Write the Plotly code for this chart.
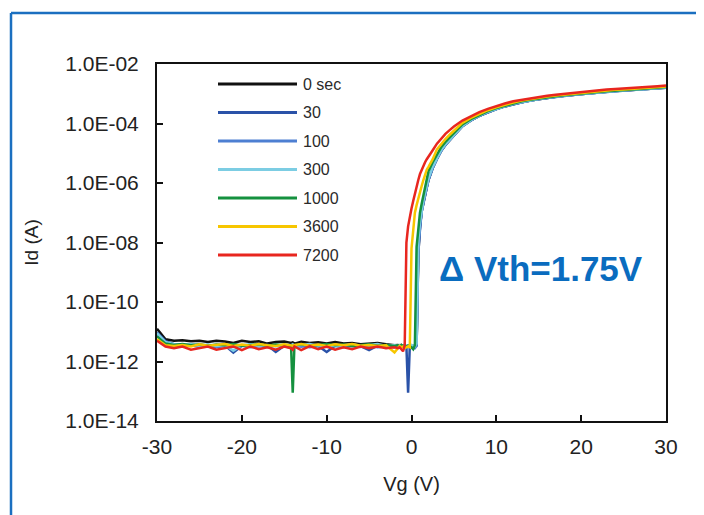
import plotly.graph_objects as go

# Gate voltage grid (V)
vg = [-30, -29, -28, -27, -26, -25, -24, -23, -22, -21, -20, -19, -18, -17, -16, -15,
      -14.2, -14, -13.8, -13, -12, -11, -10, -9, -8, -7, -6, -5, -4, -3, -2,
      -1.6, -1.4, -1.2, -1.0, -0.8, -0.6, -0.4, -0.2, 0.0, 0.2, 0.4, 0.6, 0.8, 1.0,
      1.2, 1.4, 1.6, 1.8, 2.0,
      2.5, 3.0, 3.5, 4.0, 4.5, 5.0,
      6, 7, 8, 9, 10, 11, 12, 13, 14, 15, 16, 17, 18, 19, 20, 21, 22, 23, 24, 25,
      26, 27, 28, 29, 30]

# Drain current (A) for each stress time
id_0sec = [1.26e-11, 5.6e-12, 5.0e-12, 5.2e-12, 4.8e-12, 5.0e-12, 4.5e-12, 5.0e-12, 4.7e-12, 4.2e-12,
           5.0e-12, 4.5e-12, 4.8e-12, 4.0e-12, 4.5e-12, 4.7e-12, 4.2e-12, 4.4e-12, 4.0e-12, 4.6e-12,
           4.2e-12, 4.4e-12, 4.0e-12, 4.5e-12, 4.0e-12, 4.2e-12, 3.8e-12, 4.0e-12, 4.2e-12, 3.8e-12, 3.5e-12,
           3.6e-12, 3.4e-12, 3.6e-12, 3.3e-12, 3.5e-12, 3.2e-12, 3.4e-12, 3.1e-12, 3.3e-12, 3.0e-12,
           3.2e-12, 3.5e-12, 4.0e-9, 3.5e-8, 1.1e-7, 2.2e-7, 4.0e-7, 7.1e-7, 1.26e-6,
           3.2e-6, 6.6e-6, 1.2e-5, 1.9e-5, 2.8e-5, 4.0e-5,
           8.1e-5, 1.27e-4, 1.8e-4, 2.4e-4, 3.05e-4, 3.75e-4, 4.5e-4, 5.2e-4, 5.9e-4, 6.6e-4,
           7.2e-4, 7.9e-4, 8.5e-4, 9.1e-4, 9.7e-4, 1.03e-3, 1.09e-3, 1.16e-3, 1.24e-3, 1.29e-3,
           1.34e-3, 1.39e-3, 1.46e-3, 1.54e-3, 1.6e-3]

id_30 = [9.5e-12, 4.8e-12, 3.8e-12, 3.5e-12, 3.7e-12, 3.4e-12, 3.6e-12, 3.3e-12, 3.5e-12, 2.0e-12,
         3.4e-12, 3.6e-12, 3.3e-12, 3.5e-12, 2.1e-12, 3.4e-12, 3.6e-12, 3.3e-12, 3.5e-12, 3.2e-12,
         3.5e-12, 3.3e-12, 2.1e-12, 3.4e-12, 3.2e-12, 3.5e-12, 3.3e-12, 2.4e-12, 3.4e-12, 3.2e-12, 3.4e-12,
         3.2e-12, 3.5e-12, 3.3e-12, 3.1e-12, 3.4e-12, 3.2e-12, 8.9e-14, 3.3e-12, 3.1e-12, 3.4e-12,
         3.2e-12, 3.6e-12, 6.3e-9, 4.0e-8, 1.15e-7, 2.3e-7, 4.2e-7, 7.4e-7, 1.3e-6,
         3.3e-6, 6.8e-6, 1.22e-5, 1.95e-5, 2.85e-5, 4.05e-5,
         8.2e-5, 1.28e-4, 1.82e-4, 2.42e-4, 3.08e-4, 3.78e-4, 4.55e-4, 5.25e-4, 5.95e-4, 6.65e-4,
         7.25e-4, 7.95e-4, 8.55e-4, 9.15e-4, 9.75e-4, 1.035e-3, 1.095e-3, 1.165e-3, 1.245e-3, 1.295e-3,
         1.345e-3, 1.395e-3, 1.465e-3, 1.545e-3, 1.61e-3]

id_100 = [8.0e-12, 4.2e-12, 3.4e-12, 3.2e-12, 3.5e-12, 3.1e-12, 3.4e-12, 3.0e-12, 3.3e-12, 3.1e-12,
          3.4e-12, 3.0e-12, 3.3e-12, 3.1e-12, 3.4e-12, 3.2e-12, 3.0e-12, 3.3e-12, 3.1e-12, 3.4e-12,
          3.0e-12, 3.3e-12, 3.1e-12, 3.4e-12, 3.0e-12, 3.3e-12, 3.1e-12, 3.4e-12, 3.0e-12, 3.2e-12, 3.0e-12,
          3.3e-12, 3.0e-12, 3.2e-12, 3.4e-12, 3.0e-12, 3.3e-12, 3.1e-12, 3.3e-12, 3.0e-12, 3.2e-12,
          2.8e-12, 3.3e-12, 4.0e-9, 3.5e-8, 1.1e-7, 2.2e-7, 4.0e-7, 7.1e-7, 1.26e-6,
          3.2e-6, 6.6e-6, 1.2e-5, 1.9e-5, 2.8e-5, 4.0e-5,
          8.1e-5, 1.27e-4, 1.8e-4, 2.4e-4, 3.05e-4, 3.75e-4, 4.5e-4, 5.2e-4, 5.9e-4, 6.6e-4,
          7.2e-4, 7.9e-4, 8.5e-4, 9.1e-4, 9.7e-4, 1.03e-3, 1.09e-3, 1.16e-3, 1.24e-3, 1.29e-3,
          1.34e-3, 1.39e-3, 1.46e-3, 1.54e-3, 1.6e-3]

id_300 = [9.0e-12, 4.5e-12, 3.8e-12, 3.5e-12, 3.9e-12, 3.4e-12, 3.7e-12, 3.3e-12, 3.6e-12, 2.3e-12,
          3.5e-12, 3.8e-12, 3.4e-12, 3.6e-12, 3.3e-12, 3.7e-12, 3.5e-12, 3.8e-12, 3.4e-12, 3.6e-12,
          3.9e-12, 3.4e-12, 3.7e-12, 3.3e-12, 3.6e-12, 3.8e-12, 3.4e-12, 3.6e-12, 3.9e-12, 3.3e-12, 3.6e-12,
          3.3e-12, 3.6e-12, 3.2e-12, 3.5e-12, 3.7e-12, 3.3e-12, 3.5e-12, 3.2e-12, 3.6e-12, 3.4e-12,
          3.2e-12, 4.0e-12, 1.0e-8, 4.5e-8, 1.26e-7, 2.5e-7, 4.5e-7, 7.9e-7, 1.4e-6,
          3.5e-6, 7.1e-6, 1.26e-5, 2.0e-5, 2.9e-5, 4.1e-5,
          8.3e-5, 1.3e-4, 1.85e-4, 2.45e-4, 3.1e-4, 3.8e-4, 4.6e-4, 5.3e-4, 6.0e-4, 6.7e-4,
          7.3e-4, 8.0e-4, 8.6e-4, 9.2e-4, 9.8e-4, 1.04e-3, 1.1e-3, 1.17e-3, 1.25e-3, 1.3e-3,
          1.35e-3, 1.4e-3, 1.47e-3, 1.55e-3, 1.62e-3]

id_1000 = [7.0e-12, 4.0e-12, 3.6e-12, 3.9e-12, 3.5e-12, 3.8e-12, 3.4e-12, 3.7e-12, 3.5e-12, 3.9e-12,
           3.4e-12, 3.6e-12, 3.8e-12, 3.4e-12, 3.7e-12, 3.5e-12, 3.4e-12, 8.9e-14, 3.5e-12, 3.8e-12,
           3.4e-12, 3.6e-12, 3.9e-12, 3.5e-12, 3.7e-12, 3.3e-12, 3.6e-12, 3.8e-12, 3.4e-12, 3.6e-12, 3.3e-12,
           3.5e-12, 3.2e-12, 3.6e-12, 3.3e-12, 3.5e-12, 3.1e-12, 3.4e-12, 3.2e-12, 3.0e-12, 2.6e-12,
           3.5e-12, 7.1e-9, 3.2e-8, 1.0e-7, 2.0e-7, 4.0e-7, 6.3e-7, 1.4e-6, 2.5e-6,
           5.0e-6, 8.9e-6, 1.6e-5, 2.4e-5, 3.3e-5, 4.8e-5,
           9.3e-5, 1.4e-4, 1.95e-4, 2.6e-4, 3.3e-4, 4.0e-4, 4.8e-4, 5.6e-4, 6.3e-4, 7.0e-4,
           7.6e-4, 8.3e-4, 8.9e-4, 9.6e-4, 1.02e-3, 1.08e-3, 1.15e-3, 1.22e-3, 1.3e-3, 1.35e-3,
           1.4e-3, 1.45e-3, 1.52e-3, 1.6e-3, 1.68e-3]

id_3600 = [5.6e-12, 3.5e-12, 3.3e-12, 3.6e-12, 3.2e-12, 3.8e-12, 3.4e-12, 3.6e-12, 3.9e-12, 3.3e-12,
           3.7e-12, 3.4e-12, 3.9e-12, 3.5e-12, 3.3e-12, 3.8e-12, 3.5e-12, 3.4e-12, 3.6e-12, 3.9e-12,
           3.4e-12, 3.7e-12, 3.3e-12, 3.8e-12, 3.5e-12, 3.9e-12, 3.4e-12, 3.6e-12, 3.3e-12, 3.5e-12, 2.0e-12,
           3.0e-12, 3.3e-12, 3.0e-12, 3.2e-12, 2.8e-12, 3.0e-12, 3.2e-12, 3.0e-12, 6.3e-9, 2.5e-8,
           1.0e-7, 1.8e-7, 3.2e-7, 5.0e-7, 7.9e-7, 1.26e-6, 2.0e-6, 2.8e-6, 3.5e-6,
           6.3e-6, 1.35e-5, 2.1e-5, 3.0e-5, 4.2e-5, 5.6e-5,
           1.05e-4, 1.55e-4, 2.1e-4, 2.8e-4, 3.5e-4, 4.3e-4, 5.1e-4, 5.9e-4, 6.6e-4, 7.3e-4,
           8.0e-4, 8.7e-4, 9.3e-4, 1.0e-3, 1.07e-3, 1.12e-3, 1.2e-3, 1.28e-3, 1.35e-3, 1.4e-3,
           1.45e-3, 1.5e-3, 1.6e-3, 1.68e-3, 1.75e-3]

id_7200 = [5.0e-12, 3.2e-12, 2.8e-12, 3.2e-12, 2.5e-12, 2.8e-12, 3.2e-12, 2.5e-12, 2.8e-12, 3.2e-12,
           2.4e-12, 3.2e-12, 2.6e-12, 3.0e-12, 2.5e-12, 3.2e-12, 2.8e-12, 2.5e-12, 3.2e-12, 2.4e-12,
           3.3e-12, 2.6e-12, 3.2e-12, 2.5e-12, 3.0e-12, 2.6e-12, 3.2e-12, 2.8e-12, 3.2e-12, 2.8e-12, 3.0e-12,
           2.8e-12, 3.0e-12, 2.5e-12, 2.2e-12, 3.5e-12, 1.0e-8, 3.5e-8, 8.0e-8, 1.4e-7, 2.5e-7,
           4.5e-7, 7.9e-7, 1.26e-6, 2.0e-6, 2.8e-6, 4.0e-6, 5.0e-6, 6.3e-6, 7.9e-6,
           1.26e-5, 2.1e-5, 3.2e-5, 4.5e-5, 6.0e-5, 7.9e-5,
           1.26e-4, 1.78e-4, 2.4e-4, 3.1e-4, 3.9e-4, 4.7e-4, 5.6e-4, 6.3e-4, 7.1e-4, 7.9e-4,
           8.5e-4, 9.3e-4, 1.0e-3, 1.07e-3, 1.15e-3, 1.2e-3, 1.3e-3, 1.4e-3, 1.45e-3, 1.5e-3,
           1.55e-3, 1.6e-3, 1.75e-3, 1.8e-3, 1.9e-3]

series_names = ["0 sec", "30", "100", "300", "1000", "3600", "7200"]
series_values = [id_0sec, id_30, id_100, id_300, id_1000, id_3600, id_7200]
series_colors = ["#111111", "#2a52a8", "#4d7fd2", "#7ccde3", "#15913f", "#f7c600", "#e8261f"]

x_tickvals = [-30, -20, -10, 0, 10, 20, 30]
x_ticktext = ["-30", "-20", "-10", "0", "10", "20", "30"]
y_tickvals = [1e-14, 1e-12, 1e-10, 1e-8, 1e-6, 1e-4, 1e-2]
y_ticktext = ["1.0E-14", "1.0E-12", "1.0E-10", "1.0E-08", "1.0E-06", "1.0E-04", "1.0E-02"]

for s in series_values:
    assert len(s) == len(vg), len(s)

FONT = "Liberation Sans, Arial, sans-serif"

fig = go.Figure()
for name, vals, col in zip(series_names, series_values, series_colors):
    fig.add_trace(go.Scatter(x=vg, y=vals, mode="lines", name=name,
                             line=dict(color=col, width=2.5), showlegend=False))

# page has an 8px body margin; work in reference pixel coords and shift
OFF = 8
W, H = 704 - OFF, 515 - OFF
L, R, T, B = 157 - OFF, 666 - OFF, 64 - OFF, 421 - OFF

def px(x):
    return (x - OFF - L) / (R - L)

def py(y):
    return (B - (y - OFF)) / (B - T)

shapes = []
annotations = []
# custom legend with long line samples
leg_y0 = 84
leg_dy = 28.5
for i, (name, col) in enumerate(zip(series_names, series_colors)):
    yy = py(leg_y0 + i * leg_dy)
    shapes.append(dict(type="line", xref="paper", yref="paper",
                       x0=px(218), x1=px(297), y0=yy, y1=yy,
                       line=dict(color=col, width=3)))
    annotations.append(dict(text=name, xref="paper", yref="paper", x=px(301), y=yy,
                            xanchor="left", yanchor="middle", showarrow=False,
                            font=dict(family=FONT, size=16, color="#2a2a2a")))

# blue outer frame
frame_col = "#1b6fc0"
shapes.append(dict(type="line", xref="paper", yref="paper", x0=px(11), x1=px(712),
                   y0=py(13), y1=py(13), line=dict(color=frame_col, width=2.5)))
shapes.append(dict(type="line", xref="paper", yref="paper", x0=px(11), x1=px(11),
                   y0=py(13), y1=py(525), line=dict(color=frame_col, width=2.5)))

annotations.append(dict(text="<b>Δ Vth=1.75V</b>", xref="paper", yref="paper",
                        x=px(541), y=py(268), xanchor="center", yanchor="middle",
                        showarrow=False,
                        font=dict(family=FONT, size=35, color="#0a6cbf")))

fig.update_layout(
    width=W, height=H, autosize=False,
    margin=dict(l=L, r=W - R, t=T, b=H - B),
    paper_bgcolor="white", plot_bgcolor="white",
    shapes=shapes, annotations=annotations,
    font=dict(family=FONT, color="#222222"),
)
fig.update_xaxes(range=[-30, 30], tickvals=x_tickvals, ticktext=x_ticktext,
                 ticks="inside", ticklen=6, tickwidth=2,
                 tickcolor="#111111", showline=True, linecolor="#111111", linewidth=2,
                 mirror=True, showgrid=False, zeroline=False,
                 tickfont=dict(family=FONT, size=21, color="#222222"),
                 ticklabelstandoff=6,
                 title=dict(text="Vg (V)", font=dict(family=FONT, size=20, color="#222222"),
                            standoff=20))
fig.update_yaxes(type="log", range=[-14, -2], tickvals=y_tickvals, ticktext=y_ticktext,
                 ticks="inside", ticklen=6, tickwidth=2, tickcolor="#111111",
                 showline=True, linecolor="#111111", linewidth=2, mirror=True,
                 showgrid=False, zeroline=False,
                 tickfont=dict(family=FONT, size=21, color="#222222"),
                 ticklabelstandoff=12,
                 title=dict(text="Id (A)", font=dict(family=FONT, size=19, color="#222222"),
                            standoff=22))

fig.write_html("out.html")
